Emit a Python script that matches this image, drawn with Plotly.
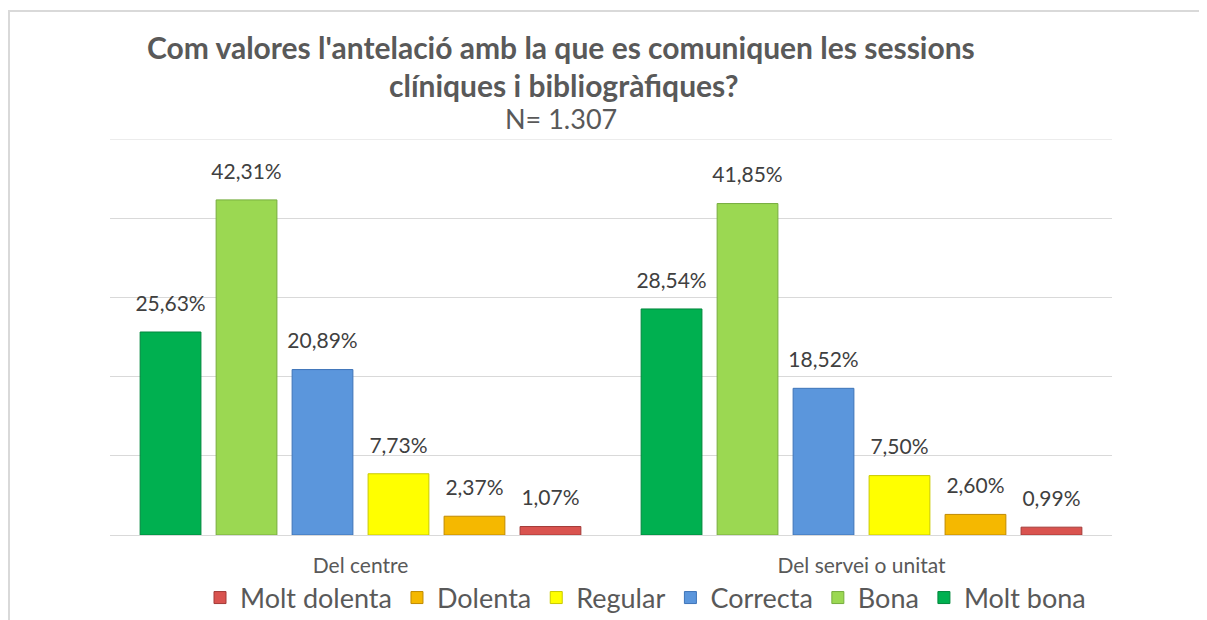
import plotly.graph_objects as go

categories = ["Del centre", "Del servei o unitat"]
series_names = ["Molt bona", "Bona", "Correcta", "Regular", "Dolenta", "Molt dolenta"]
molt_bona = [25.63, 28.54]
bona = [42.31, 41.85]
correcta = [20.89, 18.52]
regular = [7.73, 7.50]
dolenta = [2.37, 2.60]
molt_dolenta = [1.07, 0.99]
values = [molt_bona, bona, correcta, regular, dolenta, molt_dolenta]
colors = ["#00B050", "#9BD852", "#5B96DC", "#FFFF00", "#F5B800", "#D9534F"]
edges = ["#00873C", "#76AD3E", "#3E74B8", "#C9C900", "#C08A00", "#A33B38"]

# page coordinates (the page has an 8px body margin)
OFF = 8
PW, PH = 1207, 620
L, R, T, B = 110, 1112, 139, 535

def px(x):
    return (x - L) / (R - L)

def py(y):
    return (B - y) / (B - T)

def fmt(v):
    return f"{v:.2f}".replace(".", ",") + "%"

FONT = "Lato, Carlito, sans-serif"

fig = go.Figure()
for name, vals, c, e in zip(series_names, values, colors, edges):
    fig.add_trace(go.Bar(
        name=name, x=categories, y=vals, offsetgroup=name,
        marker=dict(color=c, line=dict(color=e, width=1)),
        hoverinfo="name+y",
    ))
for name, vals in zip(series_names, values):
    fig.add_trace(go.Scatter(
        x=categories, y=vals, offsetgroup=name, mode="markers+text",
        marker=dict(size=24, opacity=0), text=[fmt(v) for v in vals],
        textposition="top center", showlegend=False, hoverinfo="skip",
        textfont=dict(family=FONT, size=21, color="#404040"), cliponaxis=False,
    ))

fig.update_layout(
    width=PW - OFF, height=PH - OFF,
    margin=dict(l=L - OFF, r=PW - R, t=T - OFF, b=PH - B, autoexpand=False),
    paper_bgcolor="white", plot_bgcolor="white",
    barmode="group", bargap=0.09, bargroupgap=0.2,
    scattermode="group", scattergap=0.09,
    font=dict(family=FONT, color="#595959"),
    showlegend=True,
    legend=dict(orientation="h", traceorder="reversed", x=px(200), xanchor="left",
                y=py(598), yanchor="middle", font=dict(size=27, color="#595959"),
                itemwidth=30, bgcolor="rgba(0,0,0,0)"),
    yaxis=dict(range=[0, 50], dtick=10, showticklabels=False, showgrid=True,
               gridcolor="#D9D9D9", gridwidth=1, zeroline=False, fixedrange=True),
    xaxis=dict(showline=True, linecolor="#D9D9D9", linewidth=1, ticks="",
               tickfont=dict(size=21, color="#595959"), ticklabelstandoff=12),
)

# top gridline at 50%
fig.add_shape(type="line", xref="paper", yref="y", x0=0, x1=1, y0=50, y1=50,
              line=dict(color="#D9D9D9", width=1))

# title lines
fig.add_annotation(text="<b>Com valores l'antelació amb la que es comuniquen les sessions</b>",
                   x=px(561), y=py(47), xref="paper", yref="paper", showarrow=False,
                   font=dict(size=30, color="#595959"), xanchor="center", yanchor="middle")
fig.add_annotation(text="<b>clíniques i bibliogràfiques?</b>",
                   x=px(564), y=py(85), xref="paper", yref="paper", showarrow=False,
                   font=dict(size=30, color="#595959"), xanchor="center", yanchor="middle")
fig.add_annotation(text="N= 1.307",
                   x=px(561), y=py(119), xref="paper", yref="paper", showarrow=False,
                   font=dict(size=27, color="#595959"), xanchor="center", yanchor="middle")

# outer chart border (top and left edges)
fig.add_shape(type="line", xref="paper", yref="paper", x0=px(8), x1=px(1207), y0=py(11), y1=py(11),
              line=dict(color="#D9D9D9", width=2))
fig.add_shape(type="line", xref="paper", yref="paper", x0=px(9), x1=px(9), y0=py(11), y1=py(620),
              line=dict(color="#D9D9D9", width=2))

fig.write_html("out.html")
